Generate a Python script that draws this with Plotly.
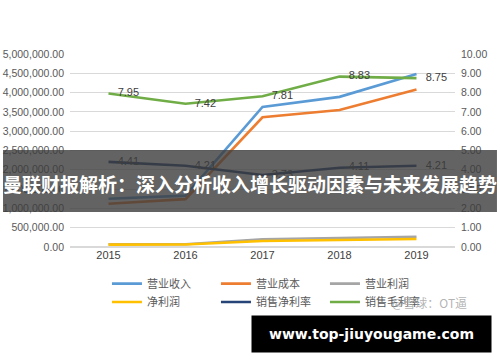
import plotly.graph_objects as go

years = ["2015", "2016", "2017", "2018", "2019"]
revenue = [1250000, 1330000, 3630000, 3890000, 4480000]      # 营业收入
cost = [1120000, 1240000, 3360000, 3550000, 4080000]         # 营业成本
op_profit = [70000, 72000, 200000, 225000, 267000]           # 营业利润
net_profit = [62000, 64000, 155000, 180000, 207000]          # 净利润
net_margin = [4.41, 4.21, 3.73, 4.11, 4.21]                  # 销售净利率
gross_margin = [7.95, 7.42, 7.81, 8.83, 8.75]                # 销售毛利率

names_row1 = ["营业收入", "营业成本", "营业利润"]
names_row2 = ["净利润", "销售净利率", "销售毛利率"]
colors = ["#5B9BD5", "#ED7D31", "#A5A5A5", "#FFC000", "#264478", "#70AD47"]

banner_text = "曼联财报解析：深入分析收入增长驱动因素与未来发展趋势"
site_text = "www.top-jiuyougame.com"
watermark_text = "@雪球：OT逼"

font_axis = dict(family="Liberation Sans, Arial, sans-serif", size=10.5, color="#595959")
cjk = "Noto Sans CJK SC, sans-serif"
pad = "\u00a0\u00a0\u00a0"

fig = go.Figure()
series_left = [revenue, cost, op_profit, net_profit]
for i, vals in enumerate(series_left):
    name = (names_row1 + names_row2)[i]
    fig.add_trace(go.Scatter(
        x=years, y=vals, name=name, mode="lines",
        line=dict(color=colors[i], width=2.6),
        legend="legend" if i < 3 else "legend2",
    ))
for i, vals in [(4, net_margin), (5, gross_margin)]:
    fig.add_trace(go.Scatter(
        x=years, y=vals, name=names_row2[i - 3], mode="lines+text",
        yaxis="y2", line=dict(color=colors[i], width=2.6),
        text=[pad + f"{v:.2f}" for v in vals], textposition="middle right",
        textfont=dict(family="Liberation Sans, Arial, sans-serif", size=11, color="#404040"),
        legend="legend2", cliponaxis=False,
    ))

leg_common = dict(orientation="h", xanchor="left", yanchor="middle",
                  font=dict(family=cjk, size=11, color="#595959"),
                  entrywidth=64, entrywidthmode="pixels",
                  bgcolor="rgba(0,0,0,0)", itemwidth=30, tracegroupgap=0)

fig.update_layout(
    width=500, height=362,
    margin=dict(l=70, r=45, t=54, b=115),
    paper_bgcolor="white", plot_bgcolor="white",
    xaxis=dict(type="category", showgrid=False, showline=False, ticks="",
               tickfont=dict(family="Liberation Sans, Arial, sans-serif", size=11, color="#404040"),
               range=[-0.5, 4.5], automargin=False),
    yaxis=dict(range=[0, 5000000], dtick=500000, tickformat=",.2f",
               gridcolor="#D9D9D9", gridwidth=1, zeroline=True, zerolinecolor="#D9D9D9",
               tickfont=font_axis, ticklabelstandoff=5, automargin=False),
    yaxis2=dict(range=[0, 10], dtick=1, tickformat=".2f", overlaying="y", side="right",
                showgrid=False, zeroline=False, tickfont=font_axis, ticklabelstandoff=5,
                automargin=False),
    legend=dict(x=0.096, y=-0.19, **leg_common),
    legend2=dict(x=0.096, y=-0.285, **leg_common),
    showlegend=True,
)

# semi-transparent banner over the chart
fig.add_shape(type="rect", xref="paper", yref="paper",
              x0=-0.174, x1=1.109, y0=0.181, y1=0.503,
              fillcolor="rgba(60,60,60,0.8)", line=dict(width=0), layer="above")
fig.add_annotation(text=banner_text, xref="paper", yref="paper",
                   x=0.468, y=0.33, xanchor="center", yanchor="middle", showarrow=False,
                   font=dict(family=cjk, size=19, color="white", weight="bold"))

# watermark
fig.add_annotation(text=watermark_text, xref="paper", yref="paper",
                   x=0.935, y=-0.285, xanchor="center", yanchor="middle", showarrow=False,
                   font=dict(family=cjk, size=12, color="rgba(160,160,160,0.8)"))

# bottom black site box
fig.add_annotation(text=site_text, xref="paper", yref="paper",
                   x=0.7831, y=-0.451, xanchor="center", yanchor="middle", showarrow=False,
                   width=239, height=36, bgcolor="black", borderpad=0,
                   font=dict(family="DejaVu Sans, sans-serif", size=14, color="white", weight="bold"))

fig.write_html("out.html")
